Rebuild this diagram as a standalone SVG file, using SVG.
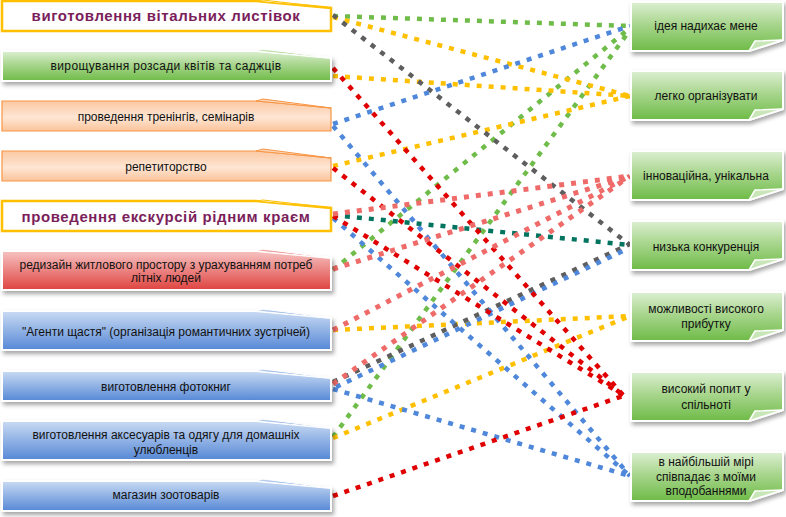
<svg xmlns="http://www.w3.org/2000/svg" width="786" height="517" viewBox="0 0 786 517">
<defs>
<linearGradient id="gGreen" x1="0" y1="0" x2="0" y2="1"><stop offset="0" stop-color="#DCEFD2"/><stop offset="0.45" stop-color="#A9D68E"/><stop offset="1" stop-color="#6EBB47"/></linearGradient>
<linearGradient id="gRed" x1="0" y1="0" x2="0" y2="1"><stop offset="0" stop-color="#F6C3C2"/><stop offset="1" stop-color="#DF4340"/></linearGradient>
<linearGradient id="gBlue" x1="0" y1="0" x2="0" y2="1"><stop offset="0" stop-color="#CADBF3"/><stop offset="1" stop-color="#5688D6"/></linearGradient>
<linearGradient id="gOrange" x1="0" y1="0" x2="0" y2="1"><stop offset="0" stop-color="#FBC8A2"/><stop offset="0.55" stop-color="#FEE6D4"/><stop offset="1" stop-color="#FBC39A"/></linearGradient>
<filter id="sh" x="-5%" y="-20%" width="112%" height="160%"><feDropShadow dx="2" dy="3" stdDeviation="2" flood-color="#000" flood-opacity="0.35"/></filter>
</defs>
<style>
.t{font-family:"Liberation Sans",Arial,sans-serif;font-size:12px;fill:#111;text-anchor:middle}
.tb{font-family:"Liberation Sans",Arial,sans-serif;font-size:15px;font-weight:bold;fill:#7B1F5C;text-anchor:middle;letter-spacing:0.6px}
.yel{fill:#fff;stroke:#FFC000;stroke-width:2.5}
.grn{fill:url(#gGreen);stroke:#fff;stroke-width:2}
.red{fill:url(#gRed);stroke:#fff;stroke-width:2}
.blu{fill:url(#gBlue);stroke:#fff;stroke-width:2}
.orn{fill:url(#gOrange);stroke:#F79646;stroke-width:1.2}
.flap{stroke-width:1}
.fold{fill:#C9E6B8;stroke:#fff;stroke-width:1.5}
.c{fill:none;stroke-width:4.5;stroke-dasharray:5 7}
.cg{stroke:#70BC4A}.cy{stroke:#FFC000}.ck{stroke:#5E5E5E}.ct{stroke:#00745F}
.cb{stroke:#4F88DA}.cr{stroke:#E00000}.cs{stroke:#EE6B69;stroke-width:5}
</style>

<g id="connectors">
<line class="c cg" x1="333" y1="16" x2="630" y2="26"/>
<line class="c cg" x1="333" y1="270" x2="630" y2="28"/>
<line class="c cg" x1="333" y1="437" x2="630" y2="30"/>
<line class="c cy" x1="333" y1="17" x2="630" y2="96"/>
<line class="c cy" x1="333" y1="76" x2="630" y2="96"/>
<line class="c cy" x1="333" y1="166" x2="630" y2="96"/>
<line class="c cy" x1="333" y1="330" x2="630" y2="316"/>
<line class="c cy" x1="333" y1="438" x2="630" y2="316"/>
<line class="c ck" x1="333" y1="15" x2="630" y2="245"/>
<line class="c ck" x1="333" y1="382" x2="630" y2="244"/>
<line class="c ct" x1="333" y1="215" x2="630" y2="245"/>
<line class="c cb" x1="333" y1="124" x2="630" y2="26"/>
<line class="c cb" x1="333" y1="126" x2="630" y2="476"/>
<line class="c cb" x1="333" y1="218" x2="630" y2="476"/>
<line class="c cb" x1="336" y1="387" x2="625" y2="250"/>
<line class="c cb" x1="333" y1="389" x2="630" y2="476"/>
<line class="c cr" x1="333" y1="68" x2="623" y2="395"/>
<line class="c cr" x1="333" y1="168" x2="623" y2="395"/>
<line class="c cr" x1="333" y1="216" x2="623" y2="395"/>
<line class="c cr" x1="333" y1="496" x2="623" y2="396"/>
<line class="c cs" x1="333" y1="214" x2="630" y2="176"/>
<line class="c cs" x1="333" y1="269" x2="630" y2="176"/>
<line class="c cs" x1="333" y1="330" x2="630" y2="176"/>
<line class="c cs" x1="333" y1="384" x2="630" y2="176"/>
</g>

<g id="L1" transform="translate(2,1)">
<path class="yel" d="M0,0 H254 L329,7 V30 H0 Z"/>
<path class="yel flap" d="M254,0 L261,-1 L329,7 Z"/>
<text class="tb" x="164" y="20">виготовлення вітальних листівок</text>
</g>
<g id="L2" transform="translate(2,51)">
<path class="grn" filter="url(#sh)" d="M0,0 H254 L329,7 V30 H0 Z"/>
<path class="grn flap" d="M254,0 L261,-2 L329,7 Z"/>
<text class="t" x="164" y="19" style="letter-spacing:0.35px">вирощування розсади квітів та саджців</text>
</g>
<g id="L3" transform="translate(2,101)">
<path class="orn" d="M0,0 H254 L329,7 V30 H0 Z"/>
<path class="orn flap" d="M254,0 L261,-2 L329,7 Z"/>
<text class="t" x="164" y="20">проведення тренінгів, семінарів</text>
</g>
<g id="L4" transform="translate(2,151)">
<path class="orn" d="M0,0 H254 L329,7 V30 H0 Z"/>
<path class="orn flap" d="M254,0 L261,-2 L329,7 Z"/>
<text class="t" x="164" y="20">репетиторство</text>
</g>
<g id="L5" transform="translate(2,201)">
<path class="yel" d="M0,0 H254 L329,7 V30 H0 Z"/>
<path class="yel flap" d="M254,0 L261,-1 L329,7 Z"/>
<text class="tb" x="164" y="21">проведення екскурсій рідним краєм</text>
</g>
<g id="L6" transform="translate(2,251)">
<path class="red" filter="url(#sh)" d="M0,0 H254 L329,7 V39 H0 Z"/>
<path class="red flap" d="M254,0 L261,-2 L329,7 Z"/>
<text class="t" x="164" y="18">редизайн житлового простору з урахуванням потреб</text>
<text class="t" x="164" y="31">літніх людей</text>
</g>
<g id="L7" transform="translate(2,311)">
<path class="blu" filter="url(#sh)" d="M0,0 H254 L329,7 V39 H0 Z"/>
<path class="blu flap" d="M254,0 L261,-2 L329,7 Z"/>
<text class="t" x="164" y="25">"Агенти щастя" (організація романтичних зустрічей)</text>
</g>
<g id="L8" transform="translate(2,371)">
<path class="blu" filter="url(#sh)" d="M0,0 H254 L329,7 V30 H0 Z"/>
<path class="blu flap" d="M254,0 L261,-2 L329,7 Z"/>
<text class="t" x="164" y="20">виготовлення фотокниг</text>
</g>
<g id="L9" transform="translate(2,421)">
<path class="blu" filter="url(#sh)" d="M0,0 H254 L329,7 V39 H0 Z"/>
<path class="blu flap" d="M254,0 L261,-2 L329,7 Z"/>
<text class="t" x="164" y="18">виготовлення аксесуарів та одягу для домашніх</text>
<text class="t" x="164" y="33">улюбленців</text>
</g>
<g id="L10" transform="translate(2,481)">
<path class="blu" filter="url(#sh)" d="M0,0 H254 L329,7 V30 H0 Z"/>
<path class="blu flap" d="M254,0 L261,-2 L329,7 Z"/>
<text class="t" x="164" y="18">магазин зоотоварів</text>
</g>

<g id="R1" transform="translate(631,2)">
<path class="grn" filter="url(#sh)" d="M0,0 H152 V38 L118,49 H0 Z"/>
<path class="fold" d="M118,49 L124,39 L152,38 Z"/>
<text class="t" x="75" y="28">ідея надихає мене</text>
</g>
<g id="R2" transform="translate(631,71)">
<path class="grn" filter="url(#sh)" d="M0,0 H152 V38 L118,49 H0 Z"/>
<path class="fold" d="M118,49 L124,39 L152,38 Z"/>
<text class="t" x="75" y="29">легко організувати</text>
</g>
<g id="R3" transform="translate(631,151)">
<path class="grn" filter="url(#sh)" d="M0,0 H152 V38 L118,49 H0 Z"/>
<path class="fold" d="M118,49 L124,39 L152,38 Z"/>
<text class="t" x="75" y="29">інноваційна, унікальна</text>
</g>
<g id="R4" transform="translate(631,221)">
<path class="grn" filter="url(#sh)" d="M0,0 H152 V38 L118,49 H0 Z"/>
<path class="fold" d="M118,49 L124,39 L152,38 Z"/>
<text class="t" x="75" y="30">низька конкуренція</text>
</g>
<g id="R5" transform="translate(631,292)">
<path class="grn" filter="url(#sh)" d="M0,0 H152 V38 L118,49 H0 Z"/>
<path class="fold" d="M118,49 L124,39 L152,38 Z"/>
<text class="t" x="75" y="21">можливості високого</text>
<text class="t" x="75" y="36">прибутку</text>
</g>
<g id="R6" transform="translate(631,372)">
<path class="grn" filter="url(#sh)" d="M0,0 H152 V38 L118,49 H0 Z"/>
<path class="fold" d="M118,49 L124,39 L152,38 Z"/>
<text class="t" x="75" y="21">високий попит у</text>
<text class="t" x="75" y="37">спільноті</text>
</g>
<g id="R7" transform="translate(631,452)">
<path class="grn" filter="url(#sh)" d="M0,0 H152 V38 L118,49 H0 Z"/>
<path class="fold" d="M118,49 L124,39 L152,38 Z"/>
<text class="t" x="75" y="14">в найбільшій мірі</text>
<text class="t" x="75" y="29">співпадає з моїми</text>
<text class="t" x="75" y="43">вподобаннями</text>
</g>
</svg>
